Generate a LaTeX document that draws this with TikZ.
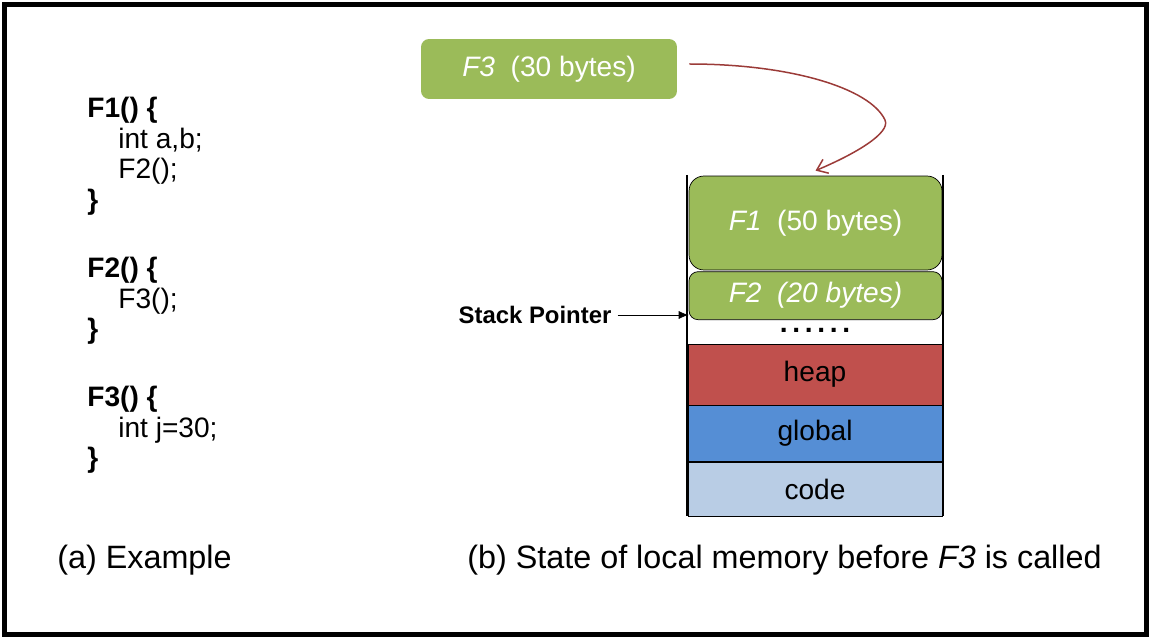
\documentclass[tikz,border=0pt]{standalone}
\usepackage{fontspec}
\setmainfont{Liberation Sans}
\usetikzlibrary{positioning,arrows.meta}
\definecolor{fgreen}{HTML}{9BBB59}
\definecolor{hred}{HTML}{C0504D}
\definecolor{gblue}{HTML}{558ED5}
\definecolor{cblue}{HTML}{B9CDE5}
\definecolor{carrow}{HTML}{9B3B38}

\begin{document}
\begin{tikzpicture}[
	x = 0.02cm, y = -0.02cm,
	every node/.style={font=\fontsize{16}{19}\selectfont},
	frame/.style={draw, fill=fgreen, text=white, minimum width=5.06cm},
	seg/.style={draw, minimum width=5.08cm, inner sep=0pt},
	codeblock/.style={anchor=north west, inner sep=0pt, align=left, font=\fontsize{16}{17.4}\selectfont},
	caption/.style={anchor=west, inner sep=0pt, font=\fontsize{18.4}{22}\selectfont},
	wall/.style={line width=0.04cm}
	]

	\useasboundingbox (0,0) rectangle (1151,638);
	\draw[line width=0.1cm] (4.5,4.5) rectangle (1146.5,634);

	% (a) code
	\node[codeblock] (code1) at (87,97) {\textbf{F1() \{}\\\hspace*{0.62cm}int a,b;\\\hspace*{0.62cm}F2();\\\textbf{\}}};
	\node[codeblock] (code2) at (87,257) {\textbf{F2() \{}\\\hspace*{0.62cm}F3();\\\textbf{\}}};
	\node[codeblock] (code3) at (87,386) {\textbf{F3() \{}\\\hspace*{0.62cm}int j=30;\\\textbf{\}}};

	% (b) memory
	\node[frame, draw=none, rounded corners=0.16cm, minimum width=5.12cm, minimum height=1.2cm] (f3) at (549,69) {\textit{F3}\ \ (30 bytes)};

	\draw[wall] (687,175) -- (687,516);
	\draw[wall] (943,175) -- (943,516);

	\node[frame, rounded corners=0.3cm, minimum height=1.88cm] (f1) at (815.5,223) {\textit{F1}\ \ (50 bytes)};
	\node[frame, rounded corners=0.18cm, minimum height=0.96cm, below=0.02cm of f1] (f2) {\textit{F2\ \ (20 bytes)}};
	\node[inner sep=0pt] (dots) at (815,330) {\bfseries .\,.\,.\,.\,.\,.};
	\node[seg, fill=hred, minimum height=1.22cm] (heap) at (815,374.5) {heap};
	\node[seg, fill=gblue, minimum height=1.12cm, below=0pt of heap] (global) {global};
	\node[seg, fill=cblue, minimum height=1.08cm, below=0pt of global] (code) {code};

	\node[font=\fontsize{13.6}{16}\selectfont\bfseries] (sp) at (535,315) {Stack Pointer};
	\draw[-{Latex[length=0.2cm,width=0.16cm]}] (sp.east) -- (sp.east -| f2.west);

	\draw[carrow, line width=0.03cm, -{Straight Barb[length=0.2cm,width=0.3cm]}] ([xshift=0.24cm,yshift=0.1cm]f3.east) .. controls (790,64) and (870,88) .. (885,120) .. controls (891,133) and (855,154) .. ([yshift=0.1cm]f1.north);

	\node[caption] (capa) at (57,560) {(a) Example};
	\node[caption] (capb) at (467,560) {(b) State of local memory before \textit{F3} is called};

\end{tikzpicture}
\end{document}
